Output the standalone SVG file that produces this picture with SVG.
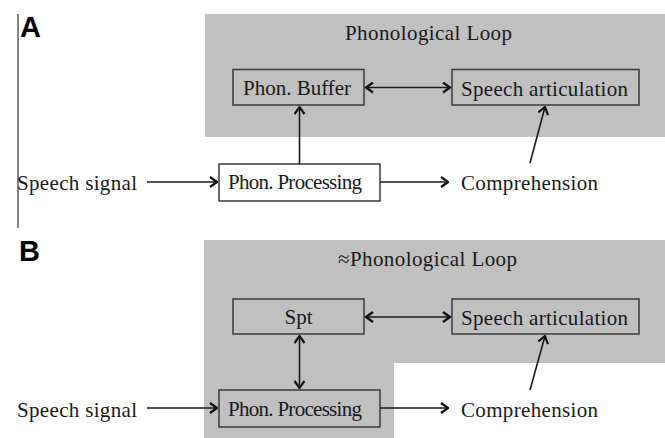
<svg xmlns="http://www.w3.org/2000/svg" width="665" height="438" viewBox="0 0 665 438">
<defs>
<style>
.bg{fill:#c0c0c0}
.box{stroke:#3a3a3a;stroke-width:1.5}
.t{font-family:"Liberation Serif","Times New Roman",serif;font-size:21px;fill:#1a1a1a}
.lbl{font-family:"Liberation Sans",Arial,sans-serif;font-weight:bold;font-size:29px;fill:#000}
.c{fill:none;stroke:#1a1a1a;stroke-width:1.6}
</style>
<marker id="ah" viewBox="0 0 10 12" refX="9" refY="6" markerWidth="10" markerHeight="12" markerUnits="userSpaceOnUse" orient="auto-start-reverse">
<path d="M2,1 L9,6 L2,11" fill="none" stroke="#111" stroke-width="2.2"/>
</marker>
</defs>
<rect width="665" height="438" fill="#fff"/>
<line x1="18" y1="14" x2="18" y2="228" stroke="#333" stroke-width="1.2"/>

<g id="panelA">
<text class="lbl" x="20" y="37">A</text>
<rect class="bg" x="205" y="14" width="460" height="123"/>
<text class="t" x="345" y="40" textLength="167">Phonological Loop</text>
</g>
<g id="panelB">
<text class="lbl" x="19" y="261">B</text>
<path class="bg" d="M204,240 H665 V363 H394 V438 H204 Z"/>
<text class="t" x="338" y="266" textLength="179">≈Phonological Loop</text>
</g>

<g id="A-buffer"><rect class="box bg" x="233" y="69.5" width="131" height="35.5"/><text class="t" x="243" y="95">Phon. Buffer</text></g>
<g id="A-artic"><rect class="box bg" x="452" y="69.5" width="187" height="35.5"/><text class="t" x="461" y="96" textLength="167">Speech articulation</text></g>
<g id="A-proc"><rect class="box" fill="#fff" x="219" y="164" width="161" height="37"/><text class="t" x="228" y="189" textLength="134">Phon. Processing</text></g>
<g id="A-signal"><text class="t" x="17" y="190" textLength="120">Speech signal</text></g>
<g id="A-comp"><text class="t" x="461" y="190" textLength="137">Comprehension</text></g>

<g id="B-spt"><rect class="box bg" x="233" y="299" width="131" height="35"/><text class="t" x="298.5" y="324" text-anchor="middle">Spt</text></g>
<g id="B-artic"><rect class="box bg" x="452" y="299" width="187" height="35"/><text class="t" x="461" y="325" textLength="167">Speech articulation</text></g>
<g id="B-proc"><rect class="box bg" x="219" y="390" width="161" height="37"/><text class="t" x="228" y="416" textLength="134">Phon. Processing</text></g>
<g id="B-signal"><text class="t" x="17" y="417" textLength="120">Speech signal</text></g>
<g id="B-comp"><text class="t" x="461" y="417" textLength="137">Comprehension</text></g>

<g id="connectors">
<line class="c" x1="366" y1="87.5" x2="450" y2="87.5" marker-start="url(#ah)" marker-end="url(#ah)"/>
<line class="c" x1="299.5" y1="164" x2="299.5" y2="107" marker-end="url(#ah)"/>
<line class="c" x1="147" y1="182" x2="217" y2="182" marker-end="url(#ah)"/>
<line class="c" x1="380" y1="182" x2="448" y2="182" marker-end="url(#ah)"/>
<line class="c" x1="530" y1="163" x2="545" y2="107" marker-end="url(#ah)"/>

<line class="c" x1="366" y1="317" x2="450" y2="317" marker-start="url(#ah)" marker-end="url(#ah)"/>
<line class="c" x1="299.5" y1="336" x2="299.5" y2="388" marker-start="url(#ah)" marker-end="url(#ah)"/>
<line class="c" x1="147" y1="408" x2="217" y2="408" marker-end="url(#ah)"/>
<line class="c" x1="380" y1="408" x2="448" y2="408" marker-end="url(#ah)"/>
<line class="c" x1="530" y1="390" x2="545" y2="336" marker-end="url(#ah)"/>
</g>
</svg>
